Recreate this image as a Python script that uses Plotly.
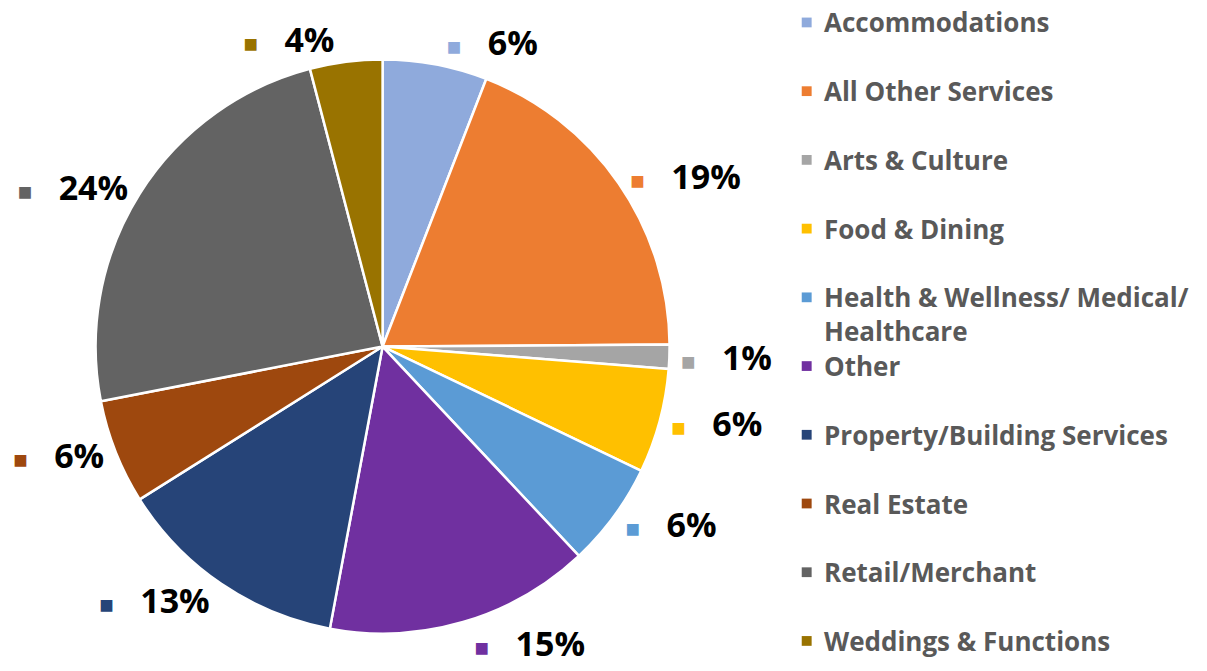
import plotly.graph_objects as go

categories = ["Accommodations", "All Other Services", "Arts & Culture", "Food & Dining",
              "Health & Wellness/ Medical/<br>Healthcare", "Other", "Property/Building Services",
              "Real Estate", "Retail/Merchant", "Weddings & Functions"]
counts = [13, 42, 3, 13, 13, 33, 29, 13, 53, 9]
colors = ["#8FAADC", "#ED7D31", "#A5A5A5", "#FFC000", "#5B9BD5",
          "#7030A0", "#264478", "#9E480E", "#636363", "#997300"]

W, H = 1207, 671
cx, cy, r = 375, 355, 294

templates = ['<span style="color:%s;font-size:24px">■</span>   %%{percent:.0%%}' % c for c in colors]

fig = go.Figure(go.Pie(
    labels=categories, values=counts, sort=False, direction="clockwise", rotation=0,
    marker=dict(colors=colors, line=dict(color="white", width=2.5)),
    textposition="outside", texttemplate=templates,
    textfont=dict(family="Open Sans", size=34, color="black", weight="bold"),
    showlegend=False,
    domain=dict(x=[(cx - r) / W, (cx + r) / W], y=[(H - cy - r) / H, (H - cy + r) / H]),
))

# legend drawn as text + squares
legend_x_marker = 803
legend_x_text = 818
y0, step = 23, 70.4
line_h = 34
annotations = []
shapes = []
for i, (cat, col) in enumerate(zip(categories, colors)):
    yc = y0 + i * step
    nlines = cat.count("<br>") + 1
    shapes.append(dict(type="rect", xref="paper", yref="paper",
                       x0=(legend_x_marker - 5) / W, x1=(legend_x_marker + 5) / W,
                       y0=1 - (yc + 5) / H, y1=1 - (yc - 5) / H,
                       fillcolor=col, line=dict(width=0)))
    annotations.append(dict(xref="paper", yref="paper", x=legend_x_text / W,
                            y=1 - (yc + (nlines - 1) * line_h / 2) / H,
                            xanchor="left", yanchor="middle",
                            text=cat, showarrow=False, align="left",
                            font=dict(family="Open Sans", size=26, color="#595959", weight="bold")))

fig.update_layout(width=W, height=H, margin=dict(l=0, r=0, t=0, b=0),
                  paper_bgcolor="white", plot_bgcolor="white",
                  annotations=annotations, shapes=shapes)
fig.write_html("out.html", config={"displayModeBar": False},
               post_script="document.body.style.margin='0';document.body.style.overflow='hidden';")
